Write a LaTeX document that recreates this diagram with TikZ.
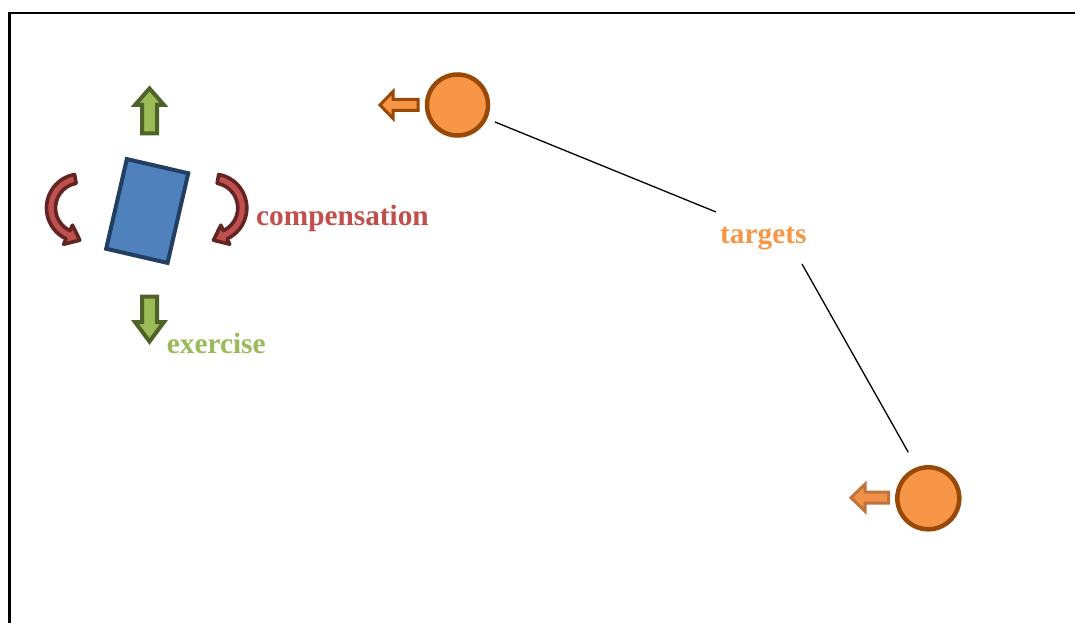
\documentclass[tikz,border=0pt]{standalone}
\usepackage{fontspec}
\setmainfont{Liberation Serif}
\usetikzlibrary{calc}
\definecolor{bfill}{HTML}{4F81BD}
\definecolor{bline}{HTML}{223F61}
\definecolor{gfill}{HTML}{9BBB59}
\definecolor{gline}{HTML}{4F6228}
\definecolor{rfill}{HTML}{C0504D}
\definecolor{rline}{HTML}{632523}
\definecolor{ofill}{HTML}{F79646}
\definecolor{oline}{HTML}{984807}
\definecolor{oline2}{HTML}{C0733A}
\definecolor{ofill2}{HTML}{F0914A}
\tikzset{
  frameline/.style={line width=2.5pt, black},
  bluebox/.style={draw=bline, fill=bfill, line width=4pt, minimum width=63pt, minimum height=92pt, inner sep=0pt, rotate=-13},
  greenarrow/.style={draw=gline, fill=gfill, line width=4pt, line join=miter},
  redarrow/.style={draw=rline, fill=rfill, line width=3.6pt, line join=round},
  orangecirc/.style={circle, draw=oline, fill=ofill, line width=4.5pt, inner sep=0pt},
  orangearrow/.style={draw=oline, fill=ofill, line width=3pt},
  orangearrowb/.style={draw=oline2, fill=ofill2, line width=3pt},
  conn/.style={line width=1.3pt, black},
  lbl/.style={font=\fontsize{29.3}{34}\selectfont\bfseries, inner sep=0pt, anchor=base west},
  curvarr/.pic={
    \draw[redarrow] (100:34) arc[start angle=100, end angle=245, radius=34]
      -- (245:40) -- (-0.7,-32.2) -- (245:19) -- (245:25)
      arc[start angle=245, end angle=100, radius=25] -- cycle;
  }
}
\begin{document}
\begin{tikzpicture}[x=1pt,y=1pt]
\useasboundingbox (0,0) rectangle (1075,622);
\fill[white] (0,0) rectangle (1075,622);
% frame
\draw[frameline] (9.7,-5) -- (9.7,609.2) -- (1085,609.2);
% blue box
\node[bluebox] (box) at (147.2,411) {};
% green arrows
\draw[greenarrow] (142,488.5) -- (142,517) -- (135,517) -- (149.5,533.5) -- (164,517) -- (157,517) -- (157,488.5) -- cycle;
\draw[greenarrow] (142,325.5) -- (142,300) -- (135,300) -- (149.5,280.5) -- (164,300) -- (157,300) -- (157,325.5) -- cycle;
% red curved arrows
\pic at (80.5,414) {curvarr};
\pic[xscale=-1] at (212.8,414) {curvarr};
% labels
\node[lbl, text=rfill] (comp) at (256,396) {compensation};
\node[lbl, text=gfill] (exer) at (166.7,268.7) {exercise};
\node[lbl, text=ofill] (targets) at (720,378.7) {targets};
% orange circles
\node[orangecirc, minimum size=61pt] (c1) at (457.5,517) {};
\node[orangecirc, minimum size=62pt] (c2) at (928.3,123.7) {};
% orange arrows
\draw[orangearrow] (418,511.5) -- (393,511.5) -- (393,503.5) -- (380,517) -- (393,530.5) -- (393,522.5) -- (418,522.5) -- cycle;
\draw[orangearrowb] (888.7,118.8) -- (865,118.8) -- (865,110.8) -- (851,124.3) -- (865,137.8) -- (865,129.8) -- (888.7,129.8) -- cycle;
% connectors
\draw[conn] ([shift={(37.5,-17)}]c1.center) -- ([shift={(-4,31.3)}]targets.base west);
\draw[conn] ([shift={(82,-20.7)}]targets.base west) -- ([shift={(-20,46)}]c2.center);
\end{tikzpicture}
\end{document}
